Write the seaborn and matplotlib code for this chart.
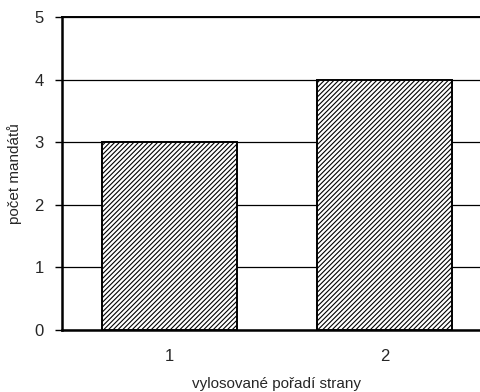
import matplotlib
matplotlib.use('Agg')
import matplotlib.pyplot as plt
import seaborn as sns

# drawn order of the party and number of seats it got
poradi = ['1', '2']
mandaty = [3, 4]

sns.set_style('white')
plt.rcParams['font.family'] = ['Liberation Sans', 'DejaVu Sans']
plt.rcParams['hatch.linewidth'] = 0.8

fig = plt.figure(figsize=(4.81, 3.92), dpi=100)
ax = fig.add_axes([62 / 481, 62 / 392, 430 / 481, 313 / 392])

sns.barplot(x=poradi, y=mandaty, color='white', width=0.63,
            edgecolor='black', linewidth=1.4, ax=ax, zorder=3)
for p in ax.patches:
    p.set_hatch('///////')
    if hasattr(p, 'set_hatchcolor'):
        p.set_hatchcolor('#6a6a6a')

ax.set_ylim(0, 5)
ax.set_xlim(-0.5, 1.5)
ax.set_yticks(range(6))
ax.yaxis.grid(True, color='black', linewidth=0.9)
ax.set_axisbelow(True)

# tick marks between categories, labels in the middle
ax.set_xticks([-0.5, 0.5, 1.5], minor=True)
ax.tick_params(axis='x', which='major', length=0, pad=14, labelsize=12)
ax.tick_params(axis='x', which='minor', length=4, width=1, color='#555555',
               direction='out')
ax.tick_params(axis='y', length=5, width=1, color='black', direction='out',
               left=True, labelsize=12, pad=8)

for side in ['left', 'bottom']:
    ax.spines[side].set_linewidth(1.8)
    ax.spines[side].set_color('black')
ax.spines['top'].set_linewidth(1.4)
ax.spines['top'].set_color('black')
ax.spines['right'].set_visible(False)

ax.set_xlabel('vylosované pořadí strany', fontsize=11, labelpad=9)
ax.set_ylabel('počet mandátů', fontsize=11, labelpad=9)

fig.savefig('out.png', dpi=100)
